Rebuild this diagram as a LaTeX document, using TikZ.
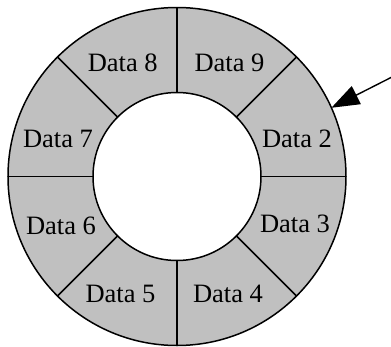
\documentclass[tikz,border=0pt]{standalone}
\usepackage{fontspec}
\setmainfont{Liberation Serif}
\usetikzlibrary{arrows.meta}
\definecolor{ringgray}{RGB}{192,192,192}
\tikzset{
  ring/.style={circle, draw=black, line width=1.5pt, inner sep=0pt, outer sep=0pt},
  divider/.style={draw=black, line width=1.5pt},
  lbl/.style={inner sep=0pt, font=\fontsize{26.5}{30}\selectfont},
  pointer/.style={draw=black, line width=1.4pt, -{Triangle[length=28pt, width=20pt]}}
}
\begin{document}
\begin{tikzpicture}[x=1pt, y=1pt]
  \useasboundingbox (-177,-169.5) rectangle (214,176.5);
  \node[ring, fill=ringgray, minimum size=338pt] (outer) at (0,0) {};
  \node[ring, fill=white, minimum size=168pt] (inner) at (0,0) {};
  \foreach \a in {0,45,...,315} {
    \draw[divider] (inner.\a) -- (outer.\a);
  }
  \node[lbl] (d8) at (-54.2,113.4) {Data 8};
  \node[lbl] (d9) at (52.5,113.4) {Data 9};
  \node[lbl] (d2) at (120,38) {Data 2};
  \node[lbl] (d3) at (118,-47.5) {Data 3};
  \node[lbl] (d4) at (51,-117.5) {Data 4};
  \node[lbl] (d5) at (-56.5,-117.5) {Data 5};
  \node[lbl] (d6) at (-116,-49) {Data 6};
  \node[lbl] (d7) at (-119,38) {Data 7};
  \coordinate (src) at (215,99.5);
  \draw[pointer] (src) -- (outer.24);
\end{tikzpicture}
\end{document}
